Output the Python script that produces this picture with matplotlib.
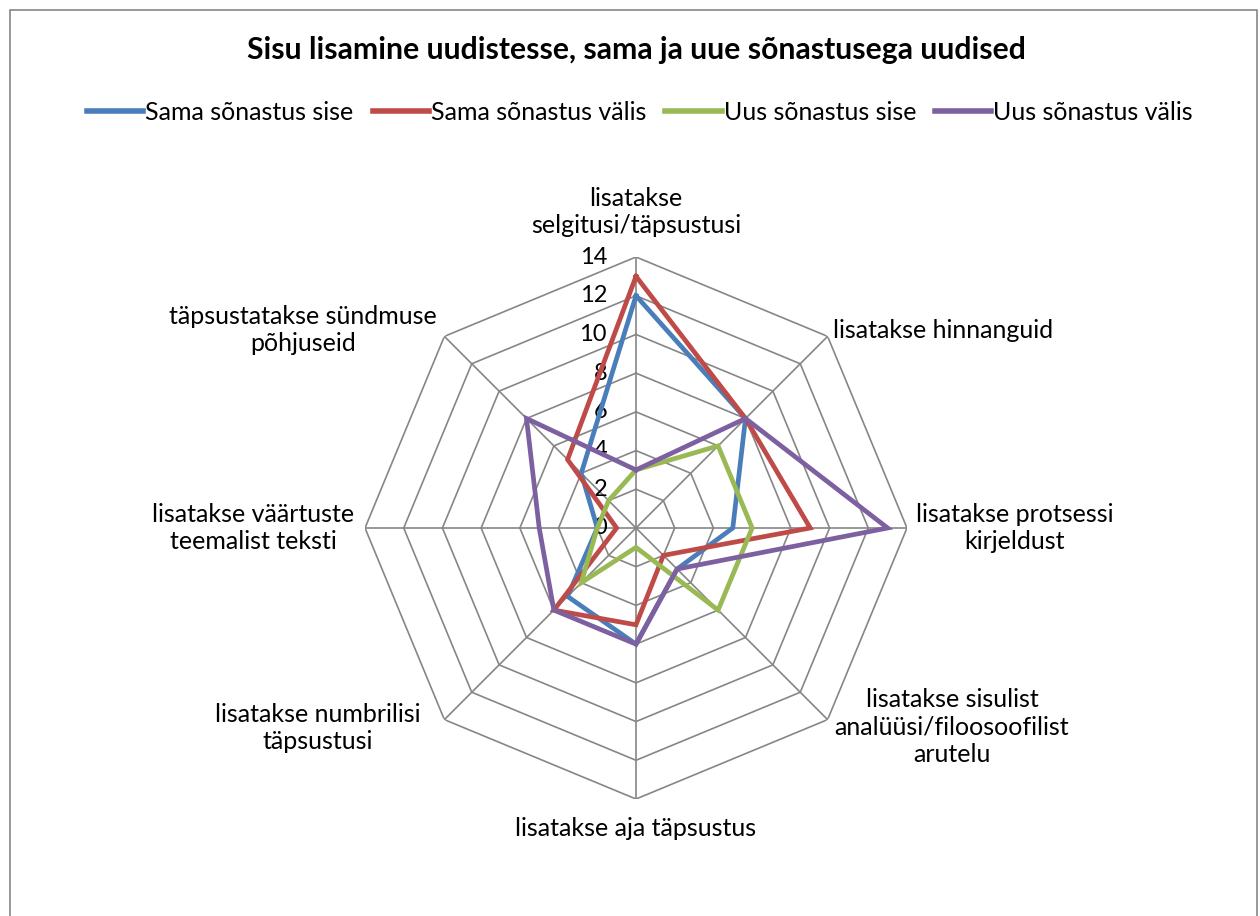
import numpy as np
import matplotlib.pyplot as plt
from matplotlib.lines import Line2D
from matplotlib.patches import Rectangle
from matplotlib import transforms

# andmed
categories = ["lisatakse\nselgitusi/täpsustusi", "lisatakse hinnanguid",
              "lisatakse protsessi\nkirjeldust",
              "lisatakse sisulist\nanalüüsi/filoosoofilist\narutelu",
              "lisatakse aja täpsustus", "lisatakse numbrilisi\ntäpsustusi",
              "lisatakse väärtuste\nteemalist teksti",
              "täpsustatakse sündmuse\npõhjuseid"]
series_names = ["Sama sõnastus sise", "Sama sõnastus välis",
                "Uus sõnastus sise", "Uus sõnastus välis"]
sama_sise = [12, 8, 5, 3, 6, 5, 2, 4]
sama_valis = [13, 8, 9, 2, 5, 6, 1, 5]
uus_sise = [3, 6, 6, 6, 1, 4, 2, 2]
uus_valis = [3, 8, 13, 3, 6, 6, 5, 8]
r_ticks = [0, 2, 4, 6, 8, 10, 12, 14]

colors = ["#4A7EBB", "#BE4B48", "#98B954", "#7D60A0"]
grid_col = "#868686"
FONT = "Lato"

W, H = 1260, 916
fig = plt.figure(figsize=(W / 100, H / 100), dpi=100)


def px(x, y):
    return x / W, 1 - y / H


# chart border
fig.patches.append(Rectangle(px(10, 960), (1257 - 10) / W, (960 - 10) / H,
                             transform=fig.transFigure, fill=False,
                             edgecolor=grid_col, lw=1.2))

cx, cy, R = 636, 528, 271
ax = fig.add_axes([(cx - R) / W, 1 - (cy + R) / H, 2 * R / W, 2 * R / H],
                  projection="polar")
ax.set_theta_offset(np.pi / 2)
ax.set_theta_direction(-1)
ax.set_ylim(0, 14)
ax.grid(False)
ax.set_xticks([])
ax.set_yticks([])
ax.spines["polar"].set_visible(False)
ax.patch.set_visible(False)

n = len(categories)
theta = np.linspace(0, 2 * np.pi, n, endpoint=False)
theta_c = np.append(theta, theta[0])

# polygon grid
for r in r_ticks[1:]:
    ax.plot(theta_c, [r] * (n + 1), color=grid_col, lw=1.2, zorder=1)
for t in theta:
    ax.plot([t, t], [0, 14], color=grid_col, lw=1.2, zorder=1)

# radial labels
off = transforms.offset_copy(ax.transData, fig=fig, x=-29, y=0, units="dots")
for r in r_ticks:
    ax.text(0, r, str(r), transform=off, ha="right", va="center",
            fontsize=17, family=FONT, zorder=2)

for vals, col in zip([sama_sise, sama_valis, uus_sise, uus_valis], colors):
    ax.plot(theta_c, vals + vals[:1], color=col, lw=3.4, zorder=3,
            solid_joinstyle="miter")

# category labels
label_pos = [(636, 212, "center"), (833, 330, "left"), (1015, 528, "center"),
             (952, 727, "center"), (636, 828, "center"), (318, 728, "center"),
             (253, 528, "center"), (303, 330, "center")]
for lab, (x, y, ha) in zip(categories, label_pos):
    fig.text(*px(x, y), lab, ha=ha, va="center", fontsize=18, family=FONT,
             linespacing=1.25, multialignment="center")

fig.text(*px(636, 50), "Sisu lisamine uudistesse, sama ja uue sõnastusega uudised",
         ha="center", va="center", fontsize=21.7, fontweight="bold", family=FONT)

handles = [Line2D([], [], color=c, lw=4) for c in colors]
fig.legend(handles, series_names, loc="center", bbox_to_anchor=px(640, 112),
           ncol=4, frameon=False, prop={"family": FONT, "size": 18},
           handlelength=2.25, handletextpad=0.08, columnspacing=0.76)

fig.savefig("out.png", dpi=100)
